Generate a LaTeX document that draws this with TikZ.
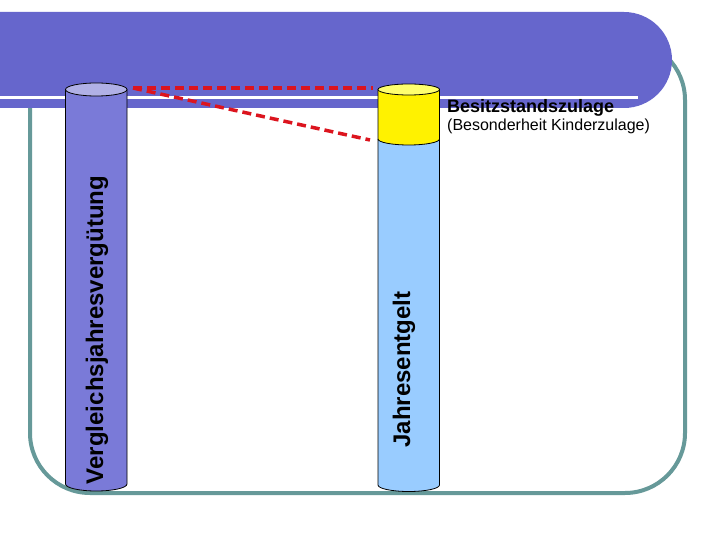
\documentclass[tikz,border=0pt]{standalone}
\usepackage{fontspec}
\setmainfont{Liberation Sans}
\definecolor{framecol}{RGB}{102,153,153}
\definecolor{bannercol}{RGB}{102,102,204}
\definecolor{vgbody}{RGB}{122,122,216}
\definecolor{vgtop}{RGB}{176,176,230}
\definecolor{jblue}{RGB}{153,204,255}
\definecolor{ytop}{RGB}{255,255,110}
\definecolor{linkred}{RGB}{220,20,30}
\begin{document}
\begin{tikzpicture}[x=1pt,y=-1pt,
  frame/.style={draw=framecol, line width=4pt, rounded corners=60pt},
  cyl/.style={draw=black, line width=0.8pt},
  link/.style={draw=linkred, line width=3.5pt, dash pattern=on 9pt off 5pt},
  vlabel/.style={rotate=90, font=\bfseries\fontsize{24}{28}\selectfont, inner sep=0pt},
  ]
\useasboundingbox (0,0) rectangle (720,540);
\fill[white] (0,0) rectangle (720,540);
% frame
\draw[frame] (30,40) rectangle (685,493);
% banner
\fill[bannercol] (0,12) -- (624,12) arc[start angle=-90, end angle=90, radius=48] -- (0,108) -- cycle;
\draw[white, line width=3.5pt] (0,97.5) -- (638,97.5);
% left cylinder
\fill[vgbody] (65.5,89.5) -- (65.5,484) arc[start angle=180, end angle=0, x radius=30.75, y radius=7] -- (127,89.5) -- cycle;
\draw[cyl] (65.5,89.5) -- (65.5,484) arc[start angle=180, end angle=0, x radius=30.75, y radius=7] -- (127,89.5);
\filldraw[cyl, fill=vgtop] (96.25,89.5) ellipse [x radius=30.75, y radius=6.5];
% right cylinder
\fill[jblue] (378,139) -- (378,485) arc[start angle=180, end angle=0, x radius=30.75, y radius=6.5] -- (439.5,139) -- cycle;
\fill[yellow] (378,89.5) -- (378,139) arc[start angle=180, end angle=0, x radius=30.75, y radius=6] -- (439.5,89.5) -- cycle;
\draw[cyl] (378,139) arc[start angle=180, end angle=0, x radius=30.75, y radius=6];
\draw[cyl] (378,89.5) -- (378,485) arc[start angle=180, end angle=0, x radius=30.75, y radius=6.5] -- (439.5,89.5);
\filldraw[cyl, fill=ytop] (408.75,89.5) ellipse [x radius=30.75, y radius=5.5];
% labels
\node[vlabel] (vgl) at (97,330) {Vergleichsjahresvergütung};
\node[vlabel] (jahr) at (404,369.5) {Jahresentgelt};
\node[anchor=base west, inner sep=0pt, font=\bfseries\fontsize{18}{20}\selectfont] (bsz) at (447,113) {Besitzstandszulage};
\node[anchor=base west, inner sep=0pt, font=\fontsize{16}{18}\selectfont] (bsk) at (447,131) {(Besonderheit Kinderzulage)};
% links
\coordinate (vtop) at (133,88);
\coordinate (jtop) at (373,88);
\coordinate (jmid) at (370,140);
\draw[link] (vtop) -- (jtop);
\draw[link] (vtop) -- (jmid);
\end{tikzpicture}
\end{document}
